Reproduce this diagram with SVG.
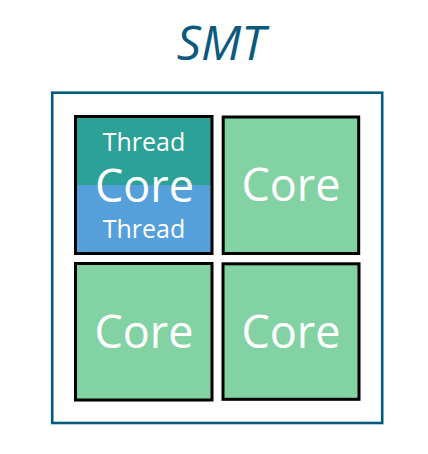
<svg xmlns="http://www.w3.org/2000/svg" width="428" height="454" viewBox="0 0 428 454">
<style>
.core{fill:#83d2a4;stroke:#000;stroke-width:3}
.big{font-family:"Open Sans","Noto Sans",sans-serif;font-size:45px;fill:#fff;text-anchor:middle}
.thr{font-family:"Open Sans","Noto Sans",sans-serif;font-size:25px;fill:#fff;text-anchor:middle}
</style>
<rect width="428" height="454" fill="#fff"/>
<text id="title" x="221" y="60" font-family="'Open Sans','Noto Sans',sans-serif" font-style="italic" font-size="48" fill="#0b5a7d" text-anchor="middle">SMT</text>
<g id="frame"><rect x="52.2" y="92.7" width="330" height="330.3" fill="none" stroke="#005b7d" stroke-width="2.6"/></g>
<g id="core1">
<rect x="75.5" y="116.5" width="136.5" height="68.5" fill="#2ca197"/>
<rect x="75.5" y="185" width="136.5" height="68.5" fill="#55a0da"/>
<rect x="75.5" y="116.5" width="136.5" height="137" fill="none" stroke="#000" stroke-width="3"/>
<text class="thr" x="144" y="151">Thread</text>
<text class="big" x="144.5" y="201.7">Core</text>
<text class="thr" x="144" y="237.7">Thread</text>
</g>
<g id="core2"><rect class="core" x="223.2" y="117" width="135.5" height="136.5"/><text class="big" x="291" y="200.7">Core</text></g>
<g id="core3"><rect class="core" x="75.5" y="263.5" width="136.5" height="136.5"/><text class="big" x="144" y="347.7">Core</text></g>
<g id="core4"><rect class="core" x="223" y="263.8" width="136" height="135.5"/><text class="big" x="291" y="347.7">Core</text></g>
<g id="connectors"/>
</svg>
